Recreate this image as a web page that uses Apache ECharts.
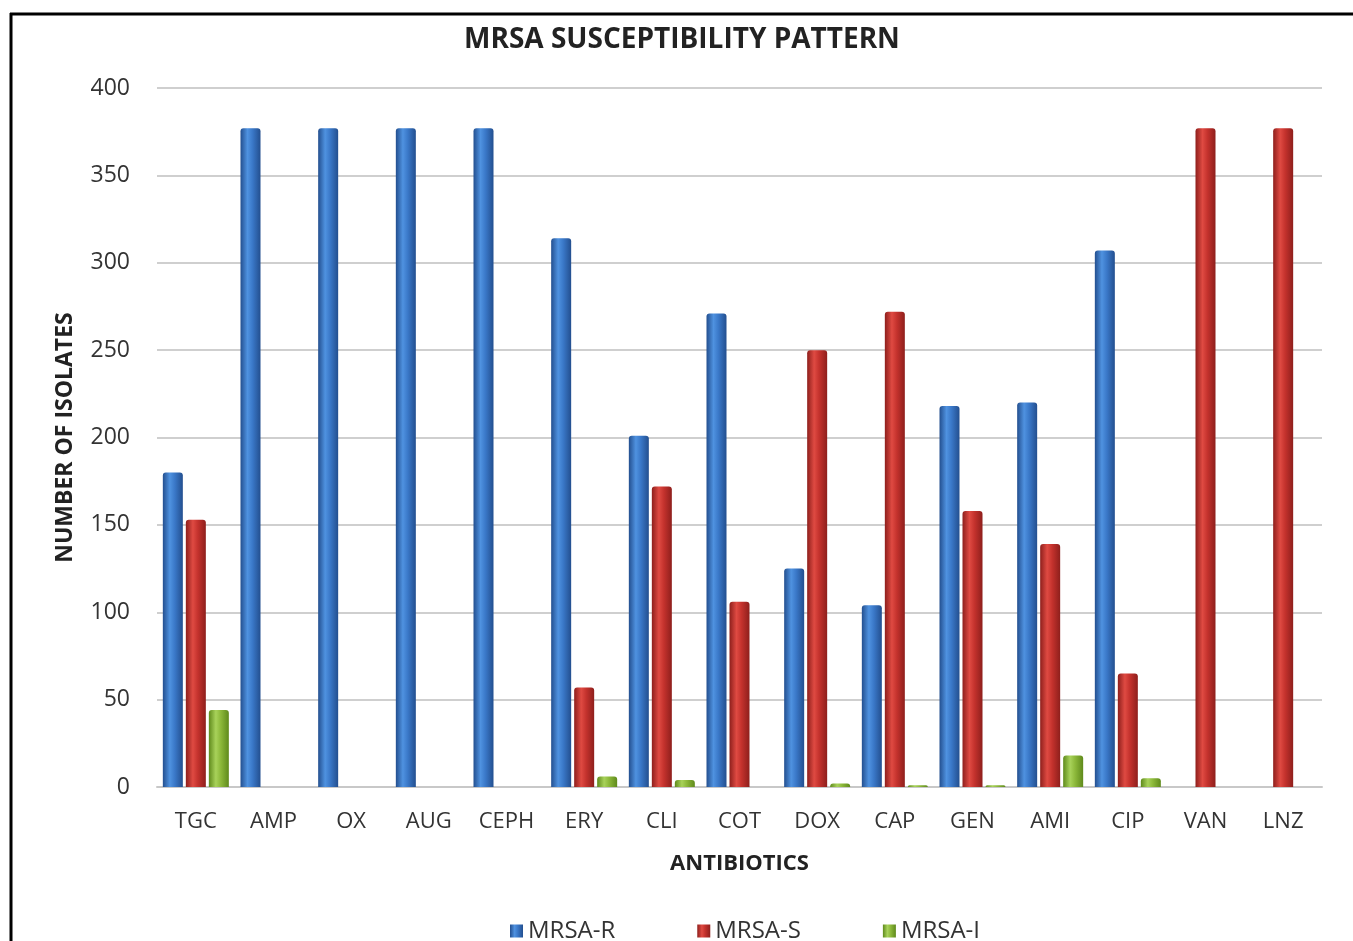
<!DOCTYPE html>
<html>
<head>
<meta charset="utf-8">
<script src="https://cdn.jsdelivr.net/npm/echarts@6/dist/echarts.min.js"></script>
<style>
html,body{margin:0;padding:0;background:#fff;}
#c{width:1353px;height:941px;}
</style>
</head>
<body>
<div id="c"></div>
<script>
const categories = ['TGC','AMP','OX','AUG','CEPH','ERY','CLI','COT','DOX','CAP','GEN','AMI','CIP','VAN','LNZ'];
const mrsaR = [180,377,377,377,377,314,201,271,125,104,218,220,307,0,0];
const mrsaS = [153,0,0,0,0,57,172,106,250,272,158,139,65,377,377];
const mrsaI = [44,0,0,0,0,6,4,0,2,1,1,18,5,0,0];
const yTicks = [0,50,100,150,200,250,300,350,400];

function cyl(edge, mid, hi){
  return new echarts.graphic.LinearGradient(0,0,1,0,[
    {offset:0,color:edge},{offset:0.35,color:hi},{offset:0.6,color:mid},{offset:1,color:edge}
  ]);
}
const FONT = '"Open Sans", "Liberation Sans", sans-serif';
const chart = echarts.init(document.getElementById('c'));
chart.setOption({
  backgroundColor:'#ffffff',
  animation:false,
  title:{text:'MRSA SUSCEPTIBILITY PATTERN',left:459,top:21,
    textStyle:{fontFamily:FONT,fontSize:28,fontWeight:'bold',color:'#222'}},
  grid:{left:157,right:31,top:88,bottom:154},
  legend:{bottom:-7,left:505,itemWidth:13,itemHeight:13,itemGap:82,icon:'rect',
    textStyle:{fontFamily:FONT,fontSize:24,color:'#333'},
    data:['MRSA-R','MRSA-S','MRSA-I']},
  xAxis:{type:'category',data:categories,
    name:'ANTIBIOTICS',nameLocation:'middle',nameGap:66,
    nameTextStyle:{fontFamily:FONT,fontSize:22,fontWeight:'bold',color:'#222'},
    axisLine:{lineStyle:{color:'#c8c8c8',width:2}},axisTick:{show:false},
    axisLabel:{fontFamily:FONT,fontSize:22,color:'#333',margin:24}},
  yAxis:{type:'value',min:0,max:400,interval:50,
    name:'NUMBER OF ISOLATES',nameLocation:'middle',nameGap:80,nameRotate:90,
    nameTextStyle:{fontFamily:FONT,fontSize:23,fontWeight:'bold',color:'#222'},
    axisLine:{show:false},axisTick:{show:false},
    axisLabel:{fontFamily:FONT,fontSize:23,color:'#333',margin:27,
      formatter:function(v){return yTicks.indexOf(v)>=0?String(v):'';}},
    splitLine:{lineStyle:{color:'#cfcfcf',width:2}}},
  series:[
    {name:'MRSA-R',type:'bar',data:mrsaR,barWidth:20,barGap:'15%',
      itemStyle:{color:cyl('#234f8f','#3a78c8','#4f92e0'),borderRadius:[3,3,0,0]}},
    {name:'MRSA-S',type:'bar',data:mrsaS,barWidth:20,barGap:'15%',
      itemStyle:{color:cyl('#8e1f1c','#c4322d','#df4a42'),borderRadius:[3,3,0,0]}},
    {name:'MRSA-I',type:'bar',data:mrsaI,barWidth:20,barGap:'15%',
      itemStyle:{color:cyl('#5f8a1c','#8cb83a','#a8d25a'),borderRadius:[3,3,0,0]}}
  ],
  graphic:[
    {type:'line',shape:{x1:10,y1:14,x2:1353,y2:14},style:{stroke:'#000',lineWidth:3}},
    {type:'line',shape:{x1:11,y1:13,x2:11,y2:941},style:{stroke:'#000',lineWidth:3}}
  ]
});
</script>
</body>
</html>
